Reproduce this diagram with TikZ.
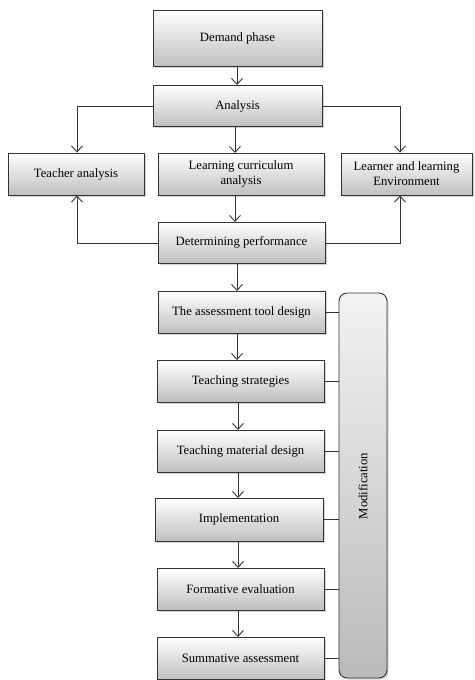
\documentclass[tikz,border=0pt]{standalone}
\usepackage{fontspec}
\setmainfont{Liberation Serif}
\usetikzlibrary{arrows.meta,shadows}
\begin{document}
\begin{tikzpicture}[x=1pt,y=-1pt,
  lbl/.style={font=\fontsize{12.7}{15}\selectfont},
  base/.style={lbl,draw=black!80,line width=0.9pt,
    drop shadow={shadow xshift=1.5pt,shadow yshift=-1.5pt,opacity=0.35},
    inner sep=1pt,align=center},
  box/.style={base,top color=white,bottom color=black!25},
  modbox/.style={base,rounded corners=8pt,top color=black!5,bottom color=black!27},
  arr/.style={draw=black!80,line width=0.9pt,-{Straight Barb[length=6pt,width=11pt,line width=0.9pt]}},
  ln/.style={draw=black!80,line width=0.9pt}]
\useasboundingbox (0,0) rectangle (474,680);
\node[box,minimum width=169pt,minimum height=56pt] (dem) at (237.5,38) {Demand phase};
\node[box,minimum width=169pt,minimum height=41pt] (ana) at (237.5,106) {Analysis};
\node[box,minimum width=136pt,minimum height=42pt] (tea) at (76,174) {Teacher analysis};
\node[box,minimum width=166pt,minimum height=42pt] (cur) at (241,174) {Learning curriculum\\analysis};
\node[box,minimum width=131pt,minimum height=42pt] (env) at (406.5,174) {Learner and learning\\Environment};
\node[box,minimum width=167pt,minimum height=41pt] (det) at (241.5,242.5) {Determining performance};
\node[box,minimum width=167pt,minimum height=42pt] (ass) at (241.5,312) {The assessment tool design};
\node[box,minimum width=167pt,minimum height=42pt] (str) at (240.5,381) {Teaching strategies};
\node[box,minimum width=167pt,minimum height=42pt] (mat) at (240.5,451) {Teaching material design};
\node[box,minimum width=168pt,minimum height=43pt] (imp) at (239,519.5) {Implementation};
\node[box,minimum width=167pt,minimum height=42pt] (for) at (240.5,589) {Formative evaluation};
\node[box,minimum width=167pt,minimum height=42pt] (sum) at (240.5,658) {Summative assessment};
\node[modbox,minimum width=48pt,minimum height=385pt] (mod) at (363,485.5) {};
\node[lbl,rotate=90] (modt) at (363,486) {Modification};
\coordinate (tl) at (77,106);
\coordinate (tr) at (400,106);
\coordinate (bl) at (77,243);
\coordinate (br) at (400,243);
\draw[arr] (237,66) -- (237,85);
\draw[arr] (ana.west |- tl) -- (tl) -- (tl |- tea.north);
\draw[arr] (ana.east |- tr) -- (tr) -- (tr |- env.north);
\draw[arr] (235,126.5) -- (235,153);
\draw[arr] (235,195) -- (235,222);
\draw[arr] (det.west |- bl) -- (bl) -- (bl |- tea.south);
\draw[arr] (det.east |- br) -- (br) -- (br |- env.south);
\draw[arr] (237,263) -- (237,291);
\draw[arr] (237,333) -- (237,360);
\draw[arr] (238,402) -- (238,430);
\draw[arr] (238,472) -- (238,498);
\draw[arr] (238,541) -- (238,568);
\draw[arr] (238,610) -- (238,637);
\foreach \n in {ass,str,mat,imp,for,sum}
  \draw[ln] (\n.east) -- (\n.east -| mod.west);
\end{tikzpicture}
\end{document}
